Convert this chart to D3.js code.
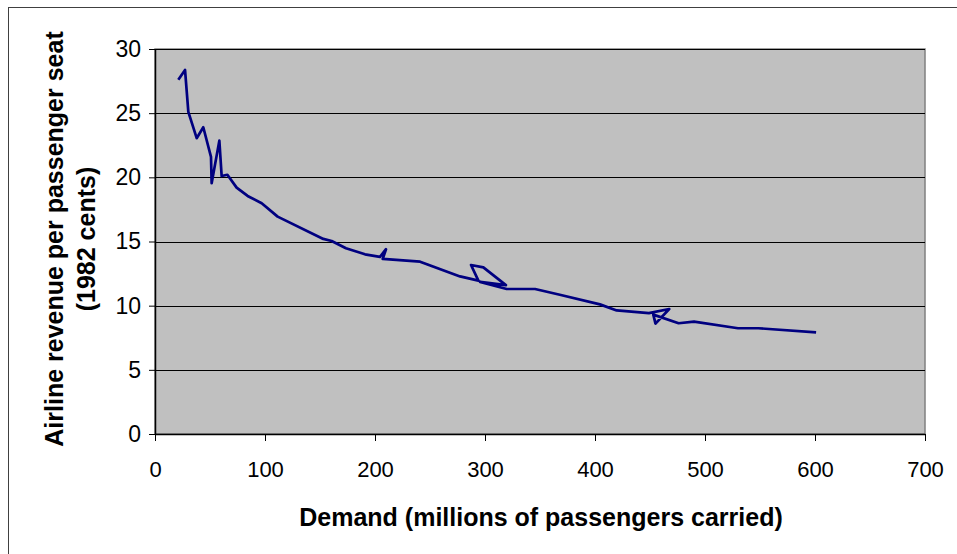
<!DOCTYPE html>
<html><head><meta charset="utf-8">
<script src="https://cdn.jsdelivr.net/npm/d3@7"></script>
<style>body{margin:0;background:#fff}svg{display:block}</style>
</head><body>
<svg id="chart" width="957" height="554"></svg>
<script>
const demand = [21.2,27.3,30.3,37.9,43.9,50.9,51.5,58.5,60.6,65.8,74.2,84.2,97,111.5,153,160.6,173.6,190.9,204.5,210,207,241,277.3,294,287.3,298.5,319,295.5,319.7,345.5,368,404.5,419.7,449,467.5,455,453,476,490,530,548.5,601];
const revenue = [27.6,28.37,25.1,23.05,23.9,21.6,19.54,22.86,20.1,20.2,19.2,18.55,17.98,16.94,15.2,15.04,14.47,14.0,13.8,14.4,13.64,13.43,12.28,11.95,13.17,12.98,11.6,11.85,11.3,11.3,10.85,10.1,9.63,9.42,9.74,8.6,9.3,8.63,8.75,8.24,8.24,7.92];
const xTicks = [0,100,200,300,400,500,600,700];
const yTicks = [0,5,10,15,20,25,30];
const xTitle = "Demand (millions of passengers carried)";
const yTitle1 = "Airline revenue per passenger seat";
const yTitle2 = "(1982 cents)";

const svg = d3.select("#chart");
const L=155, R=925, T=49, B=434;
const x = d3.scaleLinear().domain([0,700]).range([L,R]);
const y = d3.scaleLinear().domain([0,30]).range([B,T]);

svg.append("rect").attr("x",8.5).attr("y",7.5).attr("width",960).attr("height",560)
  .attr("fill","#fff").attr("stroke","#404040").attr("stroke-width",1);

svg.append("rect").attr("x",L).attr("y",T).attr("width",R-L).attr("height",B-T)
  .attr("fill","#C0C0C0").attr("stroke","#808080").attr("stroke-width",1.5);

svg.append("g").selectAll("line").data(yTicks.filter(d=>d>0)).join("line")
  .attr("x1",L).attr("x2",R).attr("y1",d=>Math.round(y(d))+0.5).attr("y2",d=>Math.round(y(d))+0.5)
  .attr("stroke","#000").attr("stroke-width",1);

const font = "'Liberation Sans', Arial, sans-serif";
const xAxis = svg.append("g").attr("transform",`translate(0,${B})`)
  .call(d3.axisBottom(x).tickValues(xTicks).tickSize(7).tickSizeOuter(0).tickPadding(20));
const yAxis = svg.append("g").attr("transform",`translate(${L},0)`)
  .call(d3.axisLeft(y).tickValues(yTicks).tickSize(6).tickSizeOuter(0).tickPadding(8));
[xAxis,yAxis].forEach(a=>{
  a.select(".domain").attr("stroke","#000").attr("stroke-width",1.5);
  a.selectAll(".tick line").attr("stroke","#000");
  a.selectAll("text").attr("font-family",font).attr("fill","#000");
});
xAxis.selectAll("text").attr("font-size",22);
yAxis.selectAll("text").attr("font-size",23);

const line = d3.line().x((d,i)=>x(demand[i])).y((d,i)=>y(revenue[i]));
svg.append("path").datum(revenue).attr("d",line).attr("fill","none")
  .attr("stroke","#000080").attr("stroke-width",2.7).attr("stroke-linejoin","round");

svg.append("text").attr("x",541).attr("y",526).attr("text-anchor","middle")
  .attr("font-family",font).attr("font-weight","bold").attr("font-size",25).text(xTitle);
const yt = svg.append("g").attr("transform","translate(0,239) rotate(-90)");
yt.append("text").attr("x",0).attr("y",63).attr("text-anchor","middle")
  .attr("font-family",font).attr("font-weight","bold").attr("font-size",25).text(yTitle1);
yt.append("text").attr("x",0).attr("y",95).attr("text-anchor","middle")
  .attr("font-family",font).attr("font-weight","bold").attr("font-size",25).text(yTitle2);
</script>
</body></html>
